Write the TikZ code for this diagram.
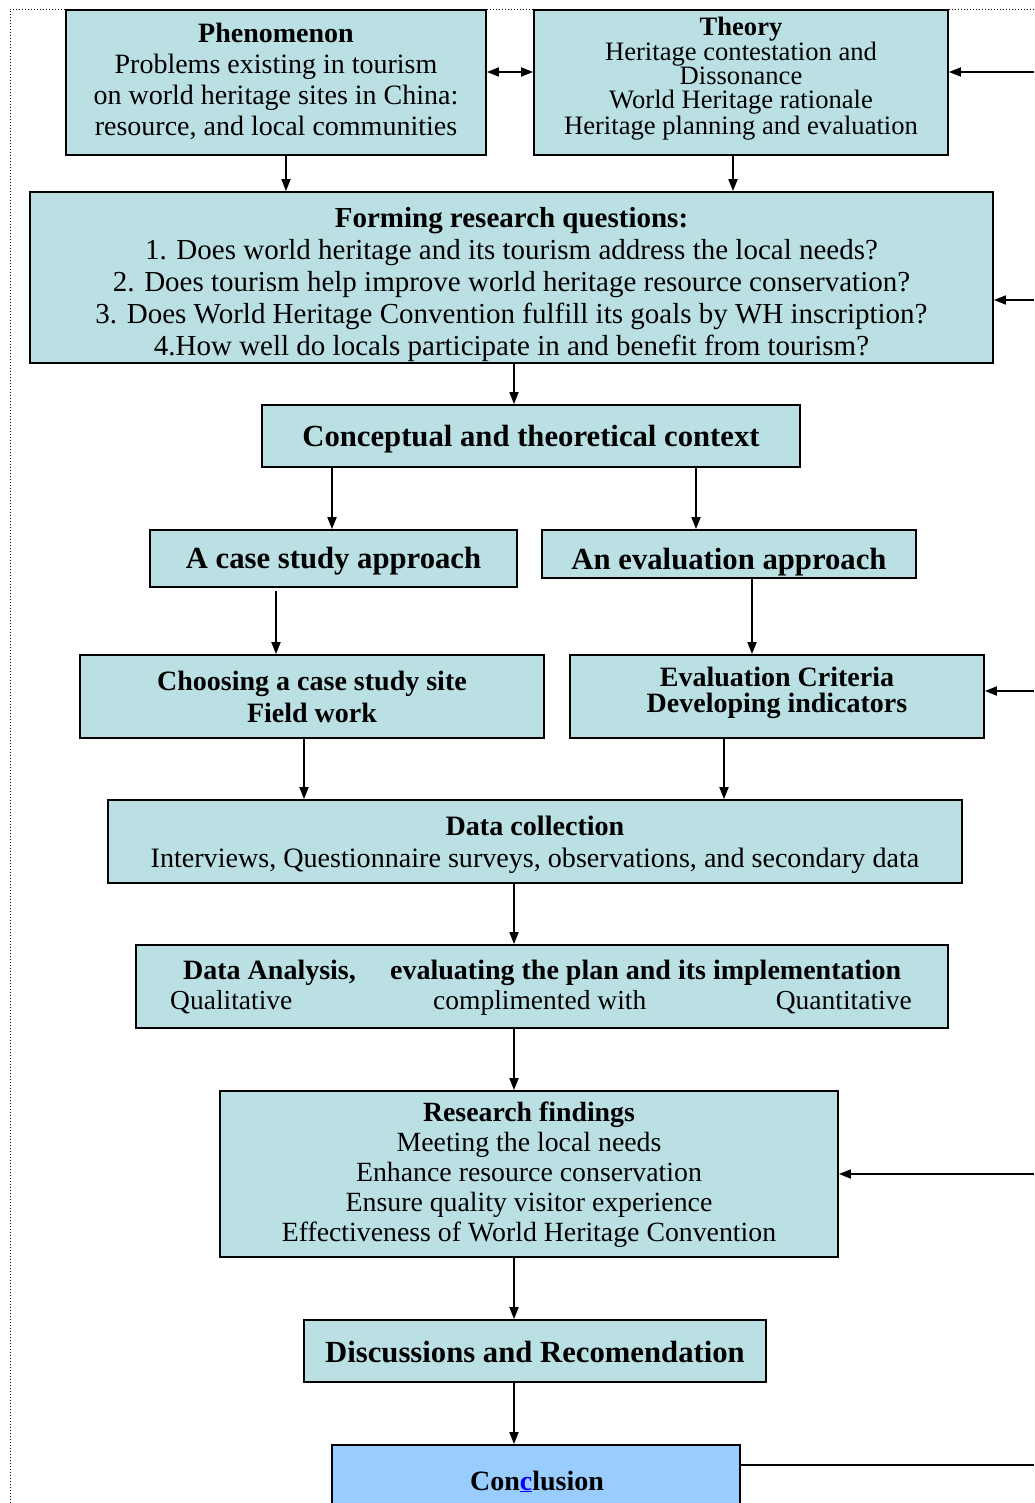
\documentclass[tikz,border=0pt]{standalone}
\usepackage{fontspec}
\setmainfont{Liberation Serif}
\usetikzlibrary{arrows.meta}
\definecolor{boxfill}{RGB}{186,224,227}
\definecolor{endfill}{RGB}{153,204,255}
\newcommand{\txtsize}{\fontsize{28}{31}\selectfont}
\newcommand{\thsize}{\fontsize{26.6}{24}\selectfont}
\newcommand{\rqsize}{\fontsize{29}{32}\selectfont}
\newcommand{\bigbold}{\fontsize{30.7}{34}\selectfont\bfseries}
\newcommand{\midbold}{\fontsize{28}{32}\selectfont\bfseries}
\begin{document}
\begin{tikzpicture}[x=1pt,y=-1pt,
  box/.style={draw=black, line width=1.8pt, fill=boxfill, inner sep=0pt},
  btext/.style={align=center, inner sep=0pt},
  conn/.style={line width=1.8pt, -{Triangle[length=12pt,width=9pt]}},
  both/.style={line width=1.8pt, {Triangle[length=12pt,width=9pt]}-{Triangle[length=12pt,width=9pt]}},
  plain/.style={line width=1.8pt},
  frame/.style={line width=0.9pt, dash pattern=on 1.2pt off 1.8pt},
  lbl/.style={inner sep=0pt, anchor=base}]
\useasboundingbox (0,0) rectangle (1034,1503);
\clip (0,0) rectangle (1034,1503);

% dotted outer frame
\draw[frame] (10,1503) -- (10,9) -- (1034,9);

% boxes
\node[box, minimum width=420, minimum height=145] (phen)    at (276,82.5) {};
\node[box, minimum width=414, minimum height=145] (theory)  at (741,82.5) {};
\node[box, minimum width=963, minimum height=171] (rq)      at (511.5,277.5) {};
\node[box, minimum width=538, minimum height=62]  (concept) at (531,436) {};
\node[box, minimum width=367, minimum height=57]  (case)    at (333.5,558.5) {};
\node[box, minimum width=374, minimum height=48]  (evalap)  at (729,554) {};
\node[box, minimum width=464, minimum height=83]  (choose)  at (312,696.5) {};
\node[box, minimum width=414, minimum height=83]  (crit)    at (777,696.5) {};
\node[box, minimum width=854, minimum height=83]  (dcol)    at (535,841.5) {};
\node[box, minimum width=812, minimum height=83]  (dan)     at (542,986.5) {};
\node[box, minimum width=618, minimum height=166] (find)    at (529,1174) {};
\node[box, minimum width=462, minimum height=62]  (disc)    at (535,1351) {};
\node[box, fill=endfill, minimum width=408, minimum height=75] (concl) at (536,1482.5) {};

% box texts
\node[btext, font=\txtsize] (phen-t) at (276,81)
  {\textbf{Phenomenon}\\Problems existing in tourism\\on world heritage sites in China:\\resource, and local communities};
\node[btext, font=\thsize] (theory-t) at (741,78.5)
  {\textbf{Theory}\\Heritage contestation and\\Dissonance\\World Heritage rationale\\Heritage planning and evaluation};
\begin{scope}
\clip (rq.north west) rectangle (rq.south east);
\node[btext, font=\rqsize] (rq-t) at (511.5,284.5)
  {\textbf{Forming research questions:}\\
   1. Does world heritage and its tourism address the local needs?\\
   2. Does tourism help improve world heritage resource conservation?\\
   3. Does World Heritage Convention fulfill its goals by WH inscription?\\
   4.How well do locals participate in and benefit from tourism?};
\end{scope}
\node[btext, font=\bigbold] (concept-t) at (531,439) {Conceptual and theoretical context};
\node[btext, font=\bigbold] (case-t) at (333.5,561.5) {A case study approach};
\begin{scope}
\clip (evalap.north west) rectangle (evalap.south east);
\node[btext, font=\bigbold] (evalap-t) at (729,562) {An evaluation approach};
\end{scope}
\node[btext, font=\midbold] (choose-t) at (312,696.5) {Choosing a case study site\\Field work};
\node[btext, font={\fontsize{28}{26}\selectfont\bfseries}] (crit-t) at (777,692.5)
  {Evaluation Criteria\\Developing indicators};
\node[btext, font={\fontsize{28.1}{32}\selectfont}] (dcol-t) at (535,845)
  {\textbf{Data collection}\\Interviews, Questionnaire surveys, observations, and secondary data};

\node[lbl, anchor=base west, font=\midbold] (dan-a) at (183,979) {Data Analysis,};
\node[lbl, anchor=base west, font=\midbold] (dan-b) at (390,979) {evaluating the plan and its implementation};
\node[lbl, anchor=base west, font={\fontsize{27.5}{31}\selectfont}] (dan-c) at (170,1009) {Qualitative};
\node[lbl, anchor=base west, font={\fontsize{27.5}{31}\selectfont}] (dan-d) at (433,1009) {complimented with};
\node[lbl, anchor=base east, font={\fontsize{27.5}{31}\selectfont}] (dan-e) at (912,1009) {Quantitative};

\node[btext, font={\fontsize{27.8}{30}\selectfont}] (find-t) at (529,1175)
  {\textbf{Research findings}\\Meeting the local needs\\Enhance resource conservation\\Ensure quality visitor experience\\Effectiveness of World Heritage Convention};
\node[btext, font=\bigbold] (disc-t) at (535,1352) {Discussions and Recomendation};
\node[lbl, font={\fontsize{28}{32}\selectfont\bfseries}] (concl-t) at (537,1490)
  {Con\textcolor{blue}{\underline{c}}lusion};

% feedback entry points on the right edge
\coordinate (r1) at (1034,72);
\coordinate (r2) at (1034,300);
\coordinate (r3) at (1034,691);
\coordinate (r4) at (1034,1174);
\coordinate (r5) at (1034,1465);

% connectors
\draw[both] (phen.east |- 0,72) -- (theory.west |- 0,72);
\draw[conn] (r1) -- (theory.east |- r1);
\draw[conn] (phen.south -| 286,0) -- (rq.north -| 286,0);
\draw[conn] (theory.south -| 733,0) -- (rq.north -| 733,0);
\draw[conn] (r2) -- (rq.east |- r2);
\draw[conn] (rq.south -| 514,0) -- (concept.north -| 514,0);
\draw[conn] (concept.south -| 332,0) -- (case.north -| 332,0);
\draw[conn] (concept.south -| 696,0) -- (evalap.north -| 696,0);
\draw[conn] ([yshift=-3pt]case.south -| 276,0) -- (choose.north -| 276,0);
\draw[conn] (evalap.south -| 752,0) -- (crit.north -| 752,0);
\draw[conn] (r3) -- (crit.east |- r3);
\draw[conn] (choose.south -| 304,0) -- (dcol.north -| 304,0);
\draw[conn] (crit.south -| 724,0) -- (dcol.north -| 724,0);
\draw[conn] (dcol.south -| 514,0) -- (dan.north -| 514,0);
\draw[conn] (dan.south -| 514,0) -- (find.north -| 514,0);
\draw[conn] (r4) -- (find.east |- r4);
\draw[conn] (find.south -| 514,0) -- (disc.north -| 514,0);
\draw[conn] (disc.south -| 514,0) -- (concl.north -| 514,0);
\draw[plain] (concl.east |- r5) -- (r5);
\end{tikzpicture}
\end{document}
